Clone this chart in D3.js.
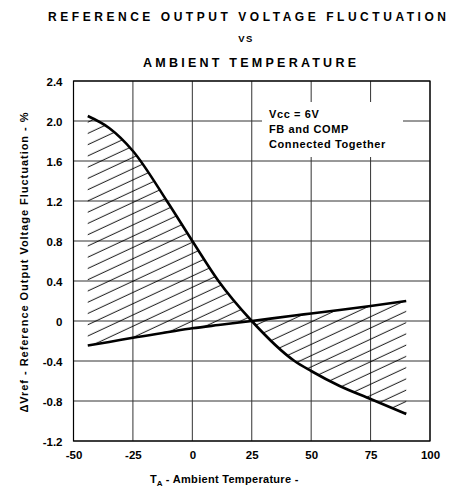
<!DOCTYPE html>
<html>
<head>
<meta charset="utf-8">
<style>
  body { margin: 0; background: #fff; }
  svg { display: block; font-family: "Liberation Sans", Arial, Helvetica, sans-serif; font-weight: bold; }
</style>
<script src="https://cdn.jsdelivr.net/npm/d3@7"></script>
</head>
<body>
<svg id="chart" width="451" height="498"></svg>
<script>
// values
let temps      = [-44, -35, -25, -10.7, 0, 11, 25, 43, 50, 62, 75, 90]
let upperCurve = [2.05, 1.93, 1.7, 1.2, 0.8, 0.4, 0, -0.4, -0.5, -0.65, -0.78, -0.93]
let lowerCurve = [-0.245, -0.21, -0.167, -0.113, -0.073, -0.04, 0, 0.055, 0.075, 0.11, 0.15, 0.2]
let xTicks = [-50, -25, 0, 25, 50, 75, 100]
let yTicks = [2.4, 2.0, 1.6, 1.2, 0.8, 0.4, 0, -0.4, -0.8, -1.2]
let yTickLabels = ["2.4", "2.0", "1.6", "1.2", "0.8", "0.4", "0", "-0.4", "-0.8", "-1.2"]
let noteLines = ["Vcc = 6V", "FB and COMP", "Connected Together"]

let svg = d3.select("#chart")
let margin = { left: 73.5, right: 21, top: 81, bottom: 57 }
let width = 451, height = 498

let x = d3.scaleLinear().domain([-50, 100]).range([margin.left, width - margin.right])
let y = d3.scaleLinear().domain([-1.2, 2.4]).range([height - margin.bottom, margin.top])

// title
let title = svg.append("g").attr("text-anchor", "middle")
title.append("text").attr("x", 247).attr("y", 21)
  .attr("font-size", 12).attr("textLength", 398).attr("lengthAdjust", "spacing")
  .text("REFERENCE OUTPUT VOLTAGE FLUCTUATION")
title.append("text").attr("x", 246).attr("y", 42)
  .attr("font-size", 9.5).attr("letter-spacing", 1.5).text("VS")
title.append("text").attr("x", 249.5).attr("y", 67)
  .attr("font-size", 12.5).attr("textLength", 213).attr("lengthAdjust", "spacing")
  .text("AMBIENT TEMPERATURE")

// hatch pattern
let defs = svg.append("defs")
let pat = defs.append("pattern").attr("id", "hatch")
  .attr("patternUnits", "userSpaceOnUse")
  .attr("width", 20).attr("height", 10.2)
  .attr("patternTransform", "rotate(-25)")
pat.append("line").attr("x1", 0).attr("y1", 5).attr("x2", 20).attr("y2", 5)
  .attr("stroke", "#000").attr("stroke-width", 0.9)

// grid
let grid = svg.append("g").attr("stroke", "#333").attr("stroke-width", 1)
grid.selectAll(".vg").data(xTicks).enter().append("line")
  .attr("x1", d => x(d)).attr("x2", d => x(d))
  .attr("y1", y(2.4)).attr("y2", y(-1.2))
grid.selectAll(".hg").data(yTicks).enter().append("line")
  .attr("x1", x(-50)).attr("x2", x(100))
  .attr("y1", d => y(d)).attr("y2", d => y(d))

// note box
let note = svg.append("g")
note.append("rect").attr("x", 262).attr("y", 102).attr("width", 141).attr("height", 55).attr("fill", "#fff")
note.selectAll("text").data(noteLines).enter().append("text")
  .attr("x", 269).attr("y", (d, i) => 118 + i * 15)
  .attr("font-size", 11).attr("letter-spacing", 0.6)
  .text(d => d)

// hatched band between the curves
let rows = temps.map((t, i) => ({ t, hi: upperCurve[i], lo: lowerCurve[i] }))
let area = d3.area()
  .x(d => x(d.t)).y0(d => y(d.lo)).y1(d => y(d.hi))
  .curve(d3.curveMonotoneX)
svg.append("path").datum(rows).attr("d", area).attr("fill", "url(#hatch)")

let line = d3.line().curve(d3.curveMonotoneX)
svg.append("path").datum(rows)
  .attr("d", line.x(d => x(d.t)).y(d => y(d.hi)))
  .attr("fill", "none").attr("stroke", "#000").attr("stroke-width", 2.6)
svg.append("path").datum(rows)
  .attr("d", line.x(d => x(d.t)).y(d => y(d.lo)))
  .attr("fill", "none").attr("stroke", "#000").attr("stroke-width", 2.6)

// frame
svg.append("rect").attr("x", x(-50)).attr("y", y(2.4))
  .attr("width", x(100) - x(-50)).attr("height", y(-1.2) - y(2.4))
  .attr("fill", "none").attr("stroke", "#000").attr("stroke-width", 1.2)

// axes (labels only)
let axisY = d3.axisLeft(y).tickValues(yTicks).tickSize(0).tickPadding(11)
  .tickFormat((d, i) => yTickLabels[i])
let gy = svg.append("g").attr("transform", `translate(${margin.left},0)`).call(axisY)
let axisX = d3.axisBottom(x).tickValues(xTicks).tickSize(0).tickPadding(10)
  .tickFormat(d => d)
let gx = svg.append("g").attr("transform", `translate(0,${y(-1.2)})`).call(axisX)
for (let g of [gx, gy]) {
  g.select(".domain").remove()
  g.selectAll("text").attr("font-family", null).attr("font-size", 11.5).attr("fill", "#000")
}
gy.selectAll("text").attr("dy", "0.35em")

// axis titles
let xt = svg.append("text").attr("x", 150).attr("y", 483).attr("font-size", 11)
xt.append("tspan").text("T")
xt.append("tspan").attr("font-size", 8).attr("dy", 3).text("A")
xt.append("tspan").attr("dy", -3).attr("letter-spacing", 0.3).text(" - Ambient Temperature -")

svg.append("text")
  .attr("transform", "translate(28,262.5) rotate(-90)")
  .attr("text-anchor", "middle").attr("font-size", 11)
  .attr("textLength", 300).attr("lengthAdjust", "spacing")
  .text("ΔVref - Reference Output Voltage Fluctuation - %")
</script>
</body>
</html>
